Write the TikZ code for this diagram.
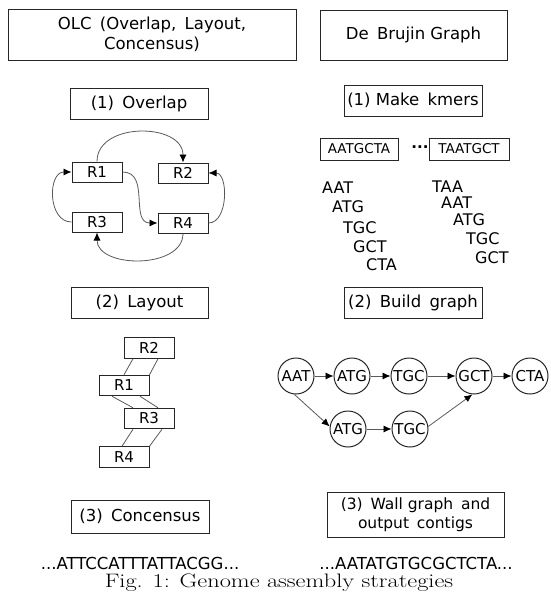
\documentclass[tikz,border=0pt]{standalone}
\usepackage{fontspec}
\newfontfamily\dfont{DejaVu Sans}
\usetikzlibrary{arrows.meta,calc}
\newcommand\dgap{\hspace{0.5em}}
\begin{document}
\begin{tikzpicture}[x=1pt,y=-1pt,
  box/.style={draw=black!85, line width=1pt, inner sep=0pt, font=\dfont\fontsize{16.5}{19.5}\selectfont, align=center},
  rbox/.style={draw=black!85, line width=1pt, inner sep=0pt, minimum width=50pt, minimum height=20pt, font=\dfont\fontsize{15}{17}\selectfont},
  kbox/.style={draw=black!85, line width=1pt, inner sep=0pt, minimum height=22pt, font=\dfont\fontsize{13.5}{15}\selectfont},
  kmer/.style={anchor=west, inner sep=0pt, font=\dfont\fontsize{16}{18}\selectfont},
  gnode/.style={circle, draw=black!85, line width=1pt, inner sep=0pt, minimum size=36pt, font=\dfont\fontsize{15}{17}\selectfont},
  conn/.style={draw=black!65, line width=0.8pt, -{Latex[length=8pt,width=7pt,color=black]}},
  lnk/.style={draw=black!65, line width=0.8pt},
  seq/.style={inner sep=0pt, font=\dfont\fontsize{16.5}{19}\selectfont}]
\useasboundingbox (0,0) rectangle (550,592);
% headers
\node[box, minimum width=288pt, minimum height=51pt] (olc) at (152,34.5) {OLC\dgap(Overlap,\dgap Layout,\\Concensus)};
\node[box, minimum width=187pt, minimum height=50pt] (dbg) at (413.5,35) {De\dgap Brujin Graph};
% OLC
\node[box, minimum width=138pt, minimum height=31pt] (ov) at (139,103.5) {(1)\dgap Overlap};
\node[rbox] (R1) at (97,172) {R1};
\node[rbox] (R2) at (183,173) {R2};
\node[rbox] (R3) at (97,222) {R3};
\node[rbox] (R4) at (183,223) {R4};
\draw[conn] (R1.north) .. controls +(0,-40) and +(0,-40) .. (R2.north);
\draw[conn] (R1.east) .. controls +(28,0) and +(-28,0) .. (R4.west);
\draw[conn] (R3.west) .. controls +(-24,0) and +(-24,0) .. (R1.west);
\draw[conn] (R4.east) .. controls +(20,0) and +(20,0) .. (R2.east);
\draw[conn] (R4.south) .. controls +(0,36) and +(0,36) .. (R3.south);
\node[box, minimum width=137pt, minimum height=31pt] (lay) at (139.5,302.5) {(2)\dgap Layout};
\node[rbox, minimum height=20.5pt] (L2) at (149,348) {R2};
\node[rbox, minimum height=20.5pt] (L1) at (124,385.5) {R1};
\node[rbox, minimum height=20.5pt] (L3) at (149,418.5) {R3};
\node[rbox, minimum height=20.5pt] (L4) at (124,457) {R4};
\draw[lnk] ($(L2.south)+(-16,0)$) -- (L1.north);
\draw[lnk] ($(L2.south)+(9,0)$) -- (L1.north east);
\draw[lnk] ($(L1.south)+(-12,0)$) -- ($(L3.north)+(-16,0)$);
\draw[lnk] ($(L1.south)+(16,0)$) -- ($(L3.north)+(9,0)$);
\draw[lnk] ($(L3.south)+(-16,0)$) -- ($(L4.north)+(-2,0)$);
\draw[lnk] ($(L3.south)+(13,0)$) -- (L4.north east);
\node[box, minimum width=138pt, minimum height=33pt] (con) at (140,516.5) {(3)\dgap Concensus};
\node[seq] (s1) at (140,563.5) {...ATTCCATTTATTACGG...};
% De Bruijn
\node[box, minimum width=138pt, minimum height=31pt] (mk) at (413,100.5) {(1) Make\dgap kmers};
\node[kbox, minimum width=78pt] (k1) at (359,149) {AATGCTA};
\node[inner sep=0pt, font=\dfont\fontsize{15}{17}\selectfont\bfseries] (dots) at (420,147) {...};
\node[kbox, minimum width=80pt] (k2) at (469,149) {TAATGCT};
\node[kmer] (a1) at (322,188) {AAT};
\node[kmer] (a2) at (332,207) {ATG};
\node[kmer] (a3) at (343,228) {TGC};
\node[kmer] (a4) at (353,247) {GCT};
\node[kmer] (a5) at (366,265) {CTA};
\node[kmer] (b1) at (432,187) {TAA};
\node[kmer] (b2) at (441,203) {AAT};
\node[kmer] (b3) at (453,220) {ATG};
\node[kmer] (b4) at (466,239) {TGC};
\node[kmer] (b5) at (475,258) {GCT};
\node[box, minimum width=138pt, minimum height=31pt] (bg) at (413,302.5) {(2)\dgap Build\dgap graph};
\node[gnode] (g1) at (296,376) {AAT};
\node[gnode] (g2) at (352,376) {ATG};
\node[gnode] (g3) at (409,376) {TGC};
\node[gnode] (g4) at (474,376) {GCT};
\node[gnode] (g5) at (530,376) {CTA};
\node[gnode] (h2) at (348,429) {ATG};
\node[gnode] (h3) at (410,429) {TGC};
\draw[conn] (g1) -- (g2);
\draw[conn] (g2) -- (g3);
\draw[conn] (g3) -- (g4);
\draw[conn] (g4) -- (g5);
\draw[conn] (h2) -- (h3);
\draw[conn] (g1.-95) -- (h2.172);
\draw[conn] (h3.8) -- (g4.-95);
\node[box, minimum width=177pt, minimum height=45pt, font=\dfont\fontsize{15.5}{19}\selectfont] (wall) at (415.5,514.5) {(3)\dgap Wall graph\dgap and\\output\dgap contigs};
\node[seq] (s2) at (416,563.5) {...AATATGTGCGCTCTA...};
\node[inner sep=0pt, font=\fontsize{19.5}{22}\selectfont] (cap) at (279,582.5) {\scalebox{1.25}[1]{Fig. 1: Genome assembly strategies}};
\end{tikzpicture}
\end{document}
